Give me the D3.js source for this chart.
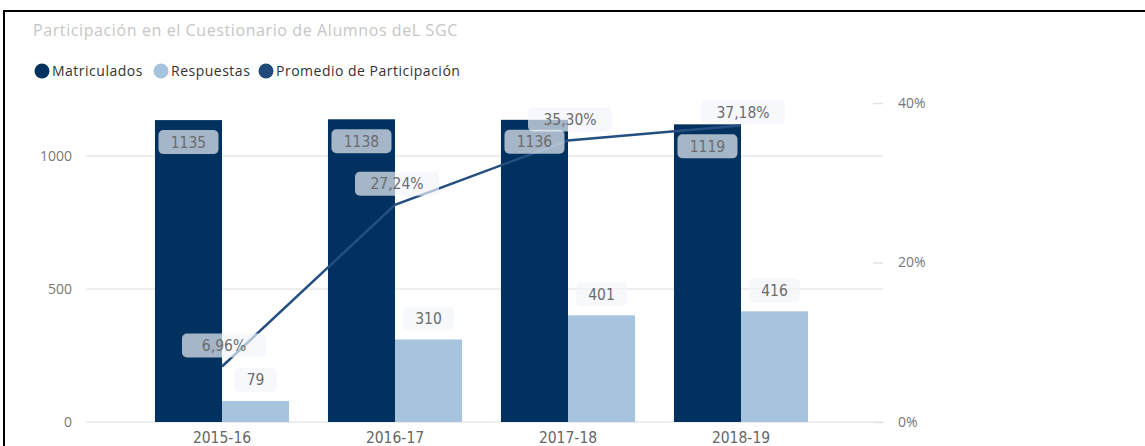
<!DOCTYPE html>
<html>
<head>
<meta charset="utf-8">
<script src="https://cdn.jsdelivr.net/npm/d3@7"></script>
<style>
  body { margin: 0; background: #fff; }
  text { font-family: "Open Sans", "Noto Sans", sans-serif; }
  .lbl { font-family: "DejaVu Sans Condensed", "Roboto", sans-serif; }
</style>
</head>
<body>
<script>
// data
var years = ["2015-16", "2016-17", "2017-18", "2018-19"];
var matriculados = [1135, 1138, 1136, 1119];
var respuestas = [79, 310, 401, 416];
var promedio = [0.0696, 0.2724, 0.3530, 0.3718];
var leftTicks = [0, 500, 1000];
var rightTicks = [0, 0.2, 0.4];
var seriesNames = ["Matriculados", "Respuestas", "Promedio de Participación"];

var w = 1145, h = 446;
var colDark = "#01325f", colLight = "#a7c4df", colLine = "#244f80";

var svg = d3.select("body").append("svg")
    .attr("width", w)
    .attr("height", h);

// frame
svg.append("line").attr("x1", 4).attr("x2", w).attr("y1", 11).attr("y2", 11)
    .attr("stroke", "#000").attr("stroke-width", 2);
svg.append("line").attr("x1", 4).attr("x2", 4).attr("y1", 10).attr("y2", h)
    .attr("stroke", "#000").attr("stroke-width", 2);

svg.append("text")
    .attr("x", 33).attr("y", 36)
    .attr("fill", "#c6c6c6")
    .style("font-size", "16px")
    .style("letter-spacing", "0.6px")
    .text("Participación en el Cuestionario de Alumnos deL SGC");

// legend
var legX = [42, 161, 266];
var legColors = [colDark, colLight, "#1f4a7a"];
var leg = svg.selectAll("g.leg").data(seriesNames).enter()
    .append("g").attr("class", "leg")
    .attr("transform", function(d, i) { return "translate(" + legX[i] + ",71)"; });
leg.append("circle").attr("r", 7.5).attr("fill", function(d, i) { return legColors[i]; });
leg.append("text").attr("x", 10).attr("y", 5)
    .attr("fill", "#333").style("font-size", "14px")
    .style("letter-spacing", "0.5px")
    .text(function(d) { return d; });

// scales
var x = d3.scaleBand().domain(years).range([135.5, 827.5])
    .paddingInner(0.225).paddingOuter(0.1125);
var x1 = d3.scaleBand().domain(["m", "r"]).range([0, x.bandwidth()]);
var yL = d3.scaleLinear().domain([0, 1000]).range([422, 156]);
var yR = d3.scaleLinear().domain([0, 0.4]).range([422, 103]);

// gridlines
svg.append("g").selectAll("line").data(leftTicks).enter().append("line")
    .attr("x1", 86).attr("x2", 883)
    .attr("y1", function(d) { return yL(d); }).attr("y2", function(d) { return yL(d); })
    .attr("stroke", "#e9e9e9").attr("stroke-width", 1.5);

// left axis
var axL = svg.append("g").attr("transform", "translate(72,0)")
    .call(d3.axisLeft(yL).tickValues(leftTicks).tickSize(0).tickPadding(0)
      .tickFormat(d3.format("d")));
axL.select(".domain").remove();
axL.selectAll("text").attr("fill", "#777").style("font-size", "14px")
    .style("font-family", "'Open Sans', sans-serif");

// right axis
var axR = svg.append("g").attr("transform", "translate(873,0)")
    .call(d3.axisRight(yR).tickValues(rightTicks).tickSize(10).tickPadding(15)
      .tickFormat(d3.format(".0%")));
axR.select(".domain").remove();
axR.selectAll("line").attr("stroke", "#e3e3e3").attr("stroke-width", 1.5);
axR.selectAll("text").attr("fill", "#777").style("font-size", "14px")
    .style("font-family", "'Open Sans', sans-serif");

// x axis
var axX = svg.append("g").attr("transform", "translate(0,422)")
    .call(d3.axisBottom(x).tickSize(0).tickPadding(10));
axX.select(".domain").remove();
axX.selectAll("text").attr("fill", "#666").style("font-size", "15.5px")
    .attr("class", "lbl");

// bars
var groups = svg.selectAll("g.year").data(years).enter()
    .append("g").attr("class", "year")
    .attr("transform", function(d) { return "translate(" + x(d) + ",0)"; });

groups.append("rect")
    .attr("x", x1("m")).attr("width", x1.bandwidth())
    .attr("y", function(d, i) { return yL(matriculados[i]); })
    .attr("height", function(d, i) { return yL(0) - yL(matriculados[i]); })
    .attr("fill", colDark);

groups.append("rect")
    .attr("x", x1("r")).attr("width", x1.bandwidth())
    .attr("y", function(d, i) { return yL(respuestas[i]); })
    .attr("height", function(d, i) { return yL(0) - yL(respuestas[i]); })
    .attr("fill", colLight);

// line
var line = d3.line()
    .x(function(d, i) { return x(years[i]) + x.bandwidth() / 2; })
    .y(function(d) { return yR(d); });
svg.append("path").datum(promedio)
    .attr("d", line)
    .attr("fill", "none").attr("stroke", colLine).attr("stroke-width", 2.5);

// data labels
function label(cx, top, txt, boxW) {
  var g = svg.append("g");
  g.append("rect").attr("x", cx - boxW / 2).attr("y", top)
    .attr("width", boxW).attr("height", 24).attr("rx", 5)
    .attr("fill", "#f2f5fb").attr("fill-opacity", 0.68);
  g.append("text").attr("class", "lbl")
    .attr("x", cx).attr("y", top + 17.5)
    .attr("text-anchor", "middle")
    .attr("fill", "#6c6c6c").style("font-size", "15.5px")
    .style("font-weight", "500")
    .text(txt);
}

var fmtPct = function(v) { return d3.format(".2f")(v * 100).replace(".", ",") + "%"; };

years.forEach(function(yr, i) {
  var cm = x(yr) + x1("m") + x1.bandwidth() / 2;
  var cr = x(yr) + x1("r") + x1.bandwidth() / 2;
  label(cm, yL(matriculados[i]) + 10, matriculados[i], 60);
  var t = String(respuestas[i]);
  label(cr, yL(respuestas[i]) - 33, t, t.length * 9 + 24);
});

promedio.forEach(function(v, i) {
  var cx = x(years[i]) + x.bandwidth() / 2 + 2;
  var top = Math.max(100, yR(v) - 33);
  label(cx, top, fmtPct(v), 84);
});
</script>
</body>
</html>
